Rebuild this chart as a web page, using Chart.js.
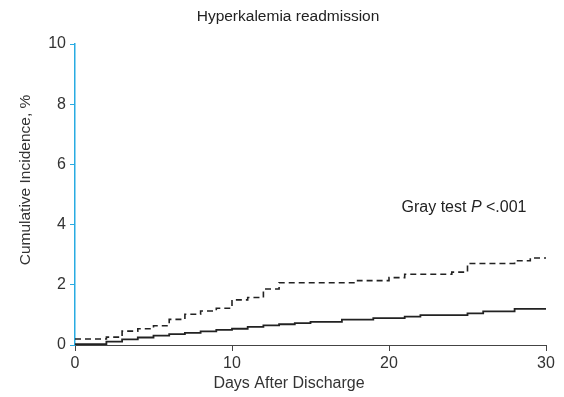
<!DOCTYPE html>
<html>
<head>
<meta charset="utf-8">
<script src="https://cdn.jsdelivr.net/npm/chart.js@4"></script>
<style>
  html, body { margin: 0; padding: 0; background: #fff; }
  #wrap { width: 564px; height: 397px; position: relative; }
</style>
</head>
<body>
<div id="wrap"><canvas id="chart"></canvas></div>
<script>
// step points: day, cumulative incidence (%)
const daysUpper = [0, 2, 3, 4, 5, 6, 7, 8, 9, 10, 11, 12, 13, 18, 20, 21, 24, 25, 28, 29, 30];
const incUpper = [0.20, 0.26, 0.46, 0.54, 0.64, 0.85, 1.02, 1.13, 1.22, 1.50, 1.58, 1.86, 2.07, 2.14, 2.24, 2.35, 2.42, 2.71, 2.80, 2.89, 2.89];

const daysLower = [0, 2, 3, 4, 5, 6, 7, 8, 9, 10, 11, 12, 13, 14, 15, 17, 19, 21, 22, 25, 26, 28, 30];
const incLower = [0.03, 0.11, 0.19, 0.25, 0.31, 0.36, 0.40, 0.45, 0.50, 0.54, 0.60, 0.65, 0.69, 0.73, 0.77, 0.84, 0.89, 0.94, 0.99, 1.05, 1.12, 1.20, 1.20];

const xTicks = [0, 10, 20, 30];
const yTicks = [0, 2, 4, 6, 8, 10];

const FONT = 'Helvetica, Arial, "Liberation Sans", sans-serif';
const BLUE = '#29abe2';

const toPoints = (xs, ys) => xs.map((x, i) => ({ x: x, y: ys[i] }));

// title, axis titles and test annotation
const textPlugin = {
  id: 'texts',
  afterDraw(chart) {
    const ctx = chart.ctx;
    const { x, y } = chart.scales;
    ctx.save();
    ctx.fillStyle = '#222';
    ctx.textBaseline = 'middle';
    ctx.font = '15.5px ' + FONT;
    ctx.textAlign = 'center';
    ctx.fillText('Hyperkalemia readmission', 288, 17);

    ctx.fillStyle = '#333';
    ctx.font = '16px ' + FONT;
    ctx.fillText('Days After Discharge', 289, 384);

    ctx.save();
    ctx.translate(26, 180);
    ctx.rotate(-Math.PI / 2);
    ctx.font = '15.5px ' + FONT;
    ctx.fillText('Cumulative Incidence, %', 0, 0);
    ctx.restore();

    ctx.fillStyle = '#222';
    ctx.textAlign = 'left';
    let px = x.getPixelForValue(20.8);
    const py = y.getPixelForValue(4.58);
    ctx.font = '16px ' + FONT;
    const a = 'Gray test ';
    ctx.fillText(a, px, py);
    px += ctx.measureText(a).width;
    ctx.font = 'italic 16px ' + FONT;
    ctx.fillText('P', px, py);
    px += ctx.measureText('P ').width;
    ctx.font = '16px ' + FONT;
    ctx.fillText('<.001', px, py);
    ctx.restore();
  }
};

new Chart(document.getElementById('chart'), {
  type: 'line',
  data: {
    datasets: [
      {
        label: 'upper',
        data: toPoints(daysUpper, incUpper),
        stepped: true,
        borderColor: '#222',
        borderWidth: 1.6,
        borderDash: [6, 4],
        pointRadius: 0,
        fill: false
      },
      {
        label: 'lower',
        data: toPoints(daysLower, incLower),
        stepped: true,
        borderColor: '#222',
        borderWidth: 1.8,
        pointRadius: 0,
        fill: false
      }
    ]
  },
  options: {
    responsive: true,
    maintainAspectRatio: false,
    animation: false,
    layout: { padding: { top: 44, right: 18, left: 0, bottom: 0 } },
    plugins: {
      legend: { display: false },
      tooltip: { enabled: false },
      title: { display: false }
    },
    scales: {
      x: {
        type: 'linear',
        min: 0,
        max: 30,
        afterBuildTicks: s => { s.ticks = xTicks.map(v => ({ value: v })); },
        afterFit: s => { s.height = 52; },
        grid: { display: true, drawOnChartArea: false, drawTicks: true, tickLength: 6, color: '#444' },
        border: { color: '#444', width: 1 },
        ticks: { color: '#333', font: { family: FONT, size: 16 }, padding: 3 }
      },
      y: {
        min: 0,
        max: 10,
        afterBuildTicks: s => { s.ticks = yTicks.map(v => ({ value: v })); },
        afterFit: s => { s.width = 75; },
        grid: { display: true, drawOnChartArea: false, drawTicks: true, tickLength: 5, color: BLUE },
        border: { color: BLUE, width: 1.5 },
        ticks: { color: '#333', font: { family: FONT, size: 16 }, padding: 4 }
      }
    }
  },
  plugins: [textPlugin]
});
</script>
</body>
</html>
